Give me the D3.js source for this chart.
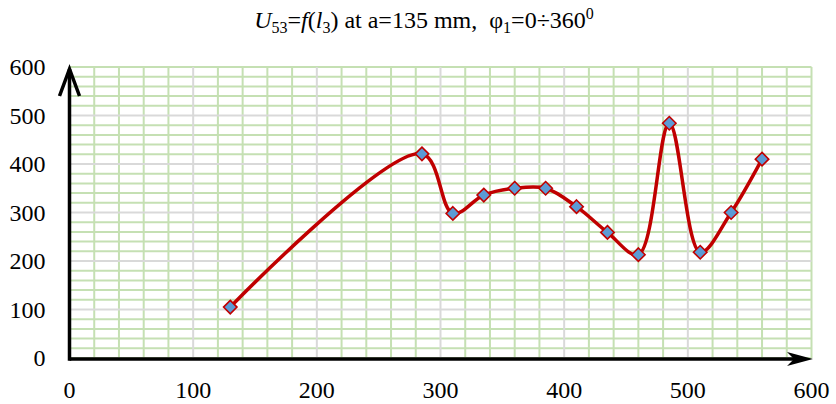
<!DOCTYPE html>
<html>
<head>
<meta charset="utf-8">
<script src="https://cdn.jsdelivr.net/npm/d3@7"></script>
</head>
<body style="margin:0; background:#fff">
<svg id="chart"></svg>
<script>
// U53 values
const lengths = [130, 285, 310, 335, 360, 385, 410, 435, 460, 485, 510, 535, 560];
const u53 = [105, 421, 298, 336, 350, 350, 312, 259, 213, 484, 218, 300, 410];
const xTicks = [0, 100, 200, 300, 400, 500, 600];
const yTicks = [0, 100, 200, 300, 400, 500, 600];

const data = lengths.map((l, i) => ({ l, u: u53[i] }));

function createChart(svgSelector) {
  const W = 836, H = 404;
  const margin = { top: 67, bottom: 46, left: 69.5, right: 24.5 };
  const width = W - margin.left - margin.right;
  const height = H - margin.top - margin.bottom;

  const svg = d3.select(svgSelector).attr('width', W).attr('height', H)
    .style('font-family', '"Liberation Serif"');
  const g = svg.append('g').attr('transform', `translate(${margin.left},${margin.top})`);

  const xscale = d3.scaleLinear().domain([0, 600]).range([0, width]);
  const yscale = d3.scaleLinear().domain([0, 600]).range([height, 0]);

  // minor grid every 20, major every 100
  const minor = d3.range(0, 601, 20);
  const isMajor = (v) => v % 100 === 0 && v > 0 && v < 600;

  g.append('g').selectAll('line').data(minor.filter((v) => !isMajor(v)))
    .join('line')
    .attr('x1', 0).attr('x2', width)
    .attr('y1', (d) => yscale(d)).attr('y2', (d) => yscale(d))
    .attr('stroke', '#c5e0b3').attr('stroke-width', 2);
  g.append('g').selectAll('line').data(minor.filter((v) => !isMajor(v)))
    .join('line')
    .attr('y1', 0).attr('y2', height)
    .attr('x1', (d) => xscale(d)).attr('x2', (d) => xscale(d))
    .attr('stroke', '#c5e0b3').attr('stroke-width', 2);
  g.append('g').selectAll('line').data(minor.filter(isMajor))
    .join('line')
    .attr('x1', 0).attr('x2', width)
    .attr('y1', (d) => yscale(d)).attr('y2', (d) => yscale(d))
    .attr('stroke', '#d9d9d9').attr('stroke-width', 2);
  g.append('g').selectAll('line').data(minor.filter(isMajor))
    .join('line')
    .attr('y1', 0).attr('y2', height)
    .attr('x1', (d) => xscale(d)).attr('x2', (d) => xscale(d))
    .attr('stroke', '#d9d9d9').attr('stroke-width', 2);

  // axes: thick black lines with arrows
  g.append('line')
    .attr('x1', 0).attr('x2', xscale(600) - 8)
    .attr('y1', height + 1).attr('y2', height + 1)
    .attr('stroke', '#000').attr('stroke-width', 3.5);
  const ax = xscale(600) + 1.5, ay = height + 1;
  g.append('path')
    .attr('d', `M${ax},${ay} L${ax - 26},${ay - 7} L${ax - 19},${ay} L${ax - 26},${ay + 7} Z`)
    .attr('fill', '#000');

  g.append('line')
    .attr('x1', 0).attr('x2', 0)
    .attr('y1', height + 2.7).attr('y2', yscale(600) + 2)
    .attr('stroke', '#000').attr('stroke-width', 3.5);
  g.append('path')
    .attr('d', `M-10,${yscale(600) + 29} L0,${yscale(600) + 2} L10,${yscale(600) + 29}`)
    .attr('fill', 'none').attr('stroke', '#000').attr('stroke-width', 3.5);

  // tick labels
  svg.append('g').selectAll('text').data(xTicks).join('text')
    .attr('x', (d) => margin.left + xscale(d)).attr('y', margin.top + height + 40)
    .attr('text-anchor', 'middle')
    .style('font-family', '"Times New Roman"').style('font-size', '24px')
    .append('tspan').text((d) => String(d));
  svg.append('g').selectAll('text').data(yTicks).join('text')
    .attr('x', margin.left - 24).attr('y', (d) => margin.top + yscale(d) + 8)
    .attr('text-anchor', 'end')
    .style('font-family', '"Times New Roman"').style('font-size', '24px')
    .append('tspan').text((d) => String(d));

  // series
  const line = d3.line()
    .x((d) => xscale(d.l)).y((d) => yscale(d.u))
    .curve(d3.curveCatmullRom.alpha(0.5));
  g.append('path').datum(data)
    .attr('d', line)
    .attr('fill', 'none').attr('stroke', '#c00000').attr('stroke-width', 3.5);

  const sym = d3.symbol().type(d3.symbolDiamond2).size(115);
  g.append('g').selectAll('path').data(data).join('path')
    .attr('transform', (d) => `translate(${xscale(d.l)},${yscale(d.u)})`)
    .attr('d', sym)
    .attr('fill', '#5b9bd5').attr('stroke', '#c00000').attr('stroke-width', 1.6);

  // title
  const title = svg.append('text')
    .attr('x', 424).attr('y', 28).attr('text-anchor', 'middle')
    .style('font-size', '24px');
  const part = (txt, opts = {}) => {
    const t = title.append('tspan').text(txt);
    if (opts.dy) t.attr('dy', opts.dy);
    if (opts.italic) t.style('font-style', 'italic');
    if (opts.small) t.style('font-size', '16px');
    return t;
  };
  part('U', { italic: true });
  part('53', { dy: 5, small: true });
  part('=', { dy: -5 });
  part('f', { italic: true });
  part('(');
  part('l', { italic: true });
  part('3', { dy: 5, small: true });
  part(') at a=135 mm,\u00a0\u00a0φ', { dy: -5 });
  part('1', { dy: 5, small: true });
  part('=0÷360', { dy: -5 });
  part('0', { dy: -9, small: true });
}

createChart('#chart');
</script>
</body>
</html>
